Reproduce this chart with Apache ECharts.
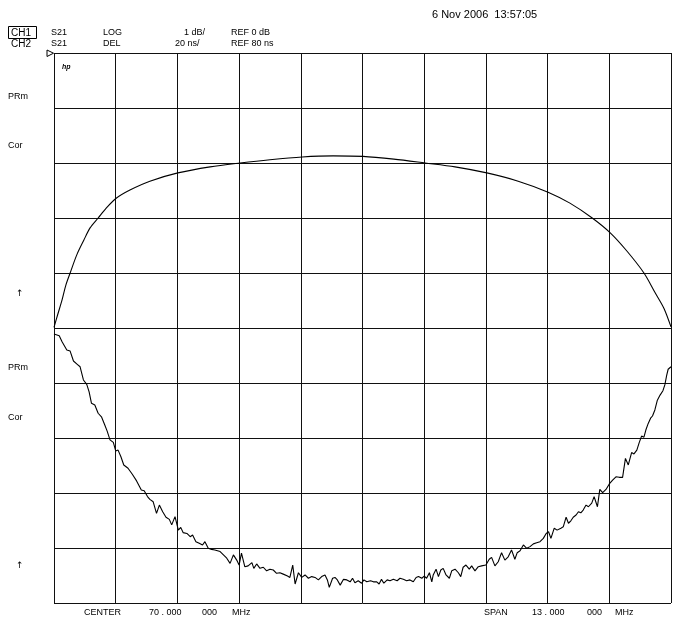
<!DOCTYPE html>
<html>
<head>
<meta charset="utf-8">
<script src="https://cdn.jsdelivr.net/npm/echarts@6/dist/echarts.min.js"></script>
<style>
html,body{margin:0;padding:0;background:#fff;}
#c{width:675px;height:621px;}
</style>
</head>
<body>
<div id="c"></div>
<script>
// CH1: S21 LOG magnitude (dB), 1 dB/div, REF 0 dB
var ch1Freq = [63.50,63.58,63.67,63.75,63.84,63.98,64.13,64.26,64.43,64.60,64.81,65.10,65.52,66.11,66.79,67.42,68.05,68.73,69.38,70.01,70.66,71.32,71.95,72.62,73.28,73.91,74.37,74.84,75.22,75.57,75.93,76.16,76.35,76.50];
var ch1Mag  = [-4.99,-4.75,-4.49,-4.22,-4.00,-3.67,-3.40,-3.18,-3.00,-2.82,-2.64,-2.49,-2.33,-2.18,-2.07,-2.00,-1.94,-1.89,-1.87,-1.88,-1.93,-2.00,-2.07,-2.18,-2.33,-2.53,-2.73,-3.00,-3.27,-3.60,-4.00,-4.35,-4.64,-4.98];

// CH2: S21 group delay (ns), 20 ns/div, REF 80 ns
var ch2Freq = [63.50,63.61,63.67,63.77,63.84,63.91,63.99,64.05,64.12,64.19,64.24,64.29,64.36,64.43,64.50,64.57,64.62,64.68,64.75,64.80,64.85,64.91,64.97,65.06,65.15,65.24,65.34,65.40,65.47,
65.52,65.59,65.66,65.72,65.79,65.86,65.93,65.98,66.05,66.12,66.17,66.22,66.30,66.37,66.42,66.49,66.56,66.63,66.68,66.75,66.82,66.89,67.00,67.07,67.14,67.21,67.28,67.35,67.40,67.45,67.52,67.59,67.67,67.71,67.77,67.84,67.91,67.98,68.05,68.12,68.19,68.26,68.33,68.42,68.47,68.53,68.58,68.65,68.72,68.79,68.86,68.93,69.00,69.07,69.14,69.21,69.26,69.30,
69.37,69.42,69.47,69.53,69.60,69.67,69.74,69.79,69.84,69.91,69.98,70.03,70.09,70.17,70.23,70.30,70.35,70.40,70.45,70.52,70.58,70.65,70.73,70.79,70.86,70.93,71.00,71.07,71.13,71.18,71.25,71.30,71.35,71.41,71.46,71.49,71.55,71.60,71.65,71.70,71.76,71.83,71.88,71.95,72.02,72.07,72.12,72.18,72.25,72.30,72.37,72.44,72.51,
72.60,72.67,72.72,72.79,72.86,72.93,73.00,73.07,73.14,73.21,73.26,73.32,73.39,73.46,73.53,73.60,73.67,73.74,73.81,73.87,73.92,73.97,74.04,74.10,74.18,74.23,74.29,74.34,74.39,74.44,74.50,74.55,74.60,74.65,74.71,74.76,74.83,74.88,74.95,75.00,75.06,75.13,75.20,75.27,75.34,75.41,75.48,75.54,75.60,75.67,75.72,75.78,75.83,75.88,75.93,75.97,76.02,76.07,76.11,76.16,76.21,76.27,76.33,76.37,76.41,76.44,76.50];
var ch2Delay = [-22.2,-22.8,-25.0,-28.0,-28.4,-32.0,-33.2,-34.1,-38.9,-40.5,-43.2,-47.4,-48.0,-51.0,-52.3,-55.3,-57.5,-60.7,-61.6,-64.7,-64.4,-66.8,-69.8,-71.0,-73.2,-75.6,-78.9,-79.2,-81.3,
-82.3,-83.2,-87.4,-84.4,-86.8,-88.8,-89.6,-91.6,-88.6,-93.5,-92.5,-94.4,-94.7,-95.9,-95.3,-97.7,-98.3,-98.9,-97.7,-100.1,-100.5,-100.7,-101.3,-102.5,-103.7,-105.6,-102.5,-104.4,-106.2,-101.9,-106.8,-106.5,-105.3,-107.4,-105.8,-107.4,-107.0,-108.3,-107.7,-108.0,-109.2,-109.0,-109.5,-110.2,-110.7,-106.2,-113.1,-109.0,-110.7,-109.8,-111.0,-110.4,-110.7,-111.6,-110.4,-109.8,-111.6,-114.3,
-111.0,-110.7,-111.6,-113.5,-111.4,-111.6,-112.3,-111.0,-112.6,-111.9,-112.8,-111.6,-112.3,-111.9,-112.3,-112.3,-113.1,-111.4,-112.8,-111.6,-111.9,-111.4,-111.9,-111.0,-111.4,-111.9,-111.6,-112.3,-110.7,-110.4,-111.0,-110.2,-111.0,-109.0,-112.3,-109.8,-107.7,-110.4,-108.0,-107.4,-109.8,-111.0,-108.3,-107.7,-109.0,-110.4,-107.0,-106.2,-107.7,-106.5,-108.3,-106.8,-106.5,
-106.2,-104.1,-103.4,-106.5,-105.0,-101.7,-104.4,-103.2,-100.7,-104.1,-101.7,-101.0,-98.9,-100.1,-99.5,-98.5,-98.1,-97.7,-96.5,-94.7,-94.1,-96.5,-92.8,-93.5,-92.8,-92.3,-88.8,-91.0,-90.1,-88.8,-88.0,-86.8,-87.2,-86.2,-84.4,-85.0,-83.7,-81.3,-85.0,-78.7,-79.9,-78.7,-76.7,-75.3,-74.1,-74.3,-74.3,-67.4,-69.8,-65.3,-65.8,-64.4,-61.7,-59.3,-59.7,-57.1,-54.7,-52.8,-52.0,-49.8,-46.4,-44.4,-42.8,-40.7,-37.1,-35.0,-34.1];

var divisions = [0, 10]; // graticule: 10 x 10 divisions
var headerRow1 = ['S21', 'LOG', '1 dB/', 'REF 0 dB'];
var headerRow2 = ['S21', 'DEL', '20 ns/', 'REF 80 ns'];
var footer = ['CENTER', '70 . 000', '000', 'MHz', 'SPAN', '13 . 000', '000', 'MHz'];
var stamp = '6 Nov 2006  13:57:05';

function pairs(xs, ys){ var o=[]; for(var i=0;i<xs.length;i++) o.push([xs[i], ys[i]]); return o; }

var chart = echarts.init(document.getElementById('c'), null, {renderer:'canvas'});
var F = 'Liberation Sans, Arial, sans-serif';
function txt(x, y, s, opt){
  opt = opt || {};
  return {type:'text', left:x, top:y, style:{text:s, fill:'#000', font:(opt.font||'9px '+F), textAlign:opt.align||'left', textVerticalAlign:'middle'}, silent:true};
}
var g = [
  txt(432, 9, stamp, {font:'11px '+F}),
  {type:'rect', shape:{x:8.5, y:26.5, width:28, height:12}, style:{fill:null, stroke:'#000', lineWidth:1}},
  txt(11, 28, 'CH1', {font:'10px '+F}),
  txt(11, 39, 'CH2', {font:'10px '+F}),
  txt(51, 28, headerRow1[0]), txt(103, 28, headerRow1[1]), txt(184, 28, headerRow1[2]), txt(231, 28, headerRow1[3]),
  txt(51, 39, headerRow2[0]), txt(103, 39, headerRow2[1]), txt(175, 39, headerRow2[2]), txt(231, 39, headerRow2[3]),
  {type:'polygon', shape:{points:[[47,50],[47,56.5],[53.5,53.2]]}, style:{fill:null, stroke:'#000', lineWidth:1}},
  txt(62, 64, 'hp', {font:'italic bold 7px '+F}),
  txt(8, 92, 'PRm'), txt(8, 141, 'Cor'), txt(16, 289, '↑', {font:'9px DejaVu Sans'}),
  txt(8, 363, 'PRm'), txt(8, 413, 'Cor'), txt(16, 561, '↑', {font:'9px DejaVu Sans'}),
  txt(84, 608, footer[0]), txt(149, 608, footer[1]), txt(202, 608, footer[2]), txt(232, 608, footer[3]),
  txt(484, 608, footer[4]), txt(532, 608, footer[5]), txt(587, 608, footer[6]), txt(615, 608, footer[7])
];

var grid = {left:54, right:4, top:53, bottom:18, containLabel:false};
var option = {
  animation:false,
  backgroundColor:'#fff',
  grid:grid,
  xAxis:[
    {type:'value', min:divisions[0], max:divisions[1], interval:1, axisLine:{show:false}, axisTick:{show:false}, axisLabel:{show:false},
     splitLine:{show:true, lineStyle:{color:'#111', width:1}}},
    {type:'value', show:false, min:63.5, max:76.5}
  ],
  yAxis:[
    {type:'value', min:divisions[0], max:divisions[1], interval:1, axisLine:{show:false}, axisTick:{show:false}, axisLabel:{show:false},
     splitLine:{show:true, lineStyle:{color:'#111', width:1}}},
    {type:'value', show:false, min:-10, max:0},
    {type:'value', show:false, min:-120, max:80}
  ],
  series:[
    {type:'line', xAxisIndex:1, yAxisIndex:1, data:pairs(ch1Freq, ch1Mag), showSymbol:false, smooth:0.3,
     lineStyle:{color:'#000', width:1.1}},
    {type:'line', xAxisIndex:1, yAxisIndex:2, data:pairs(ch2Freq, ch2Delay), showSymbol:false,
     lineStyle:{color:'#000', width:1.1}}
  ],
  graphic:g
};
chart.setOption(option);
</script>
</body>
</html>
